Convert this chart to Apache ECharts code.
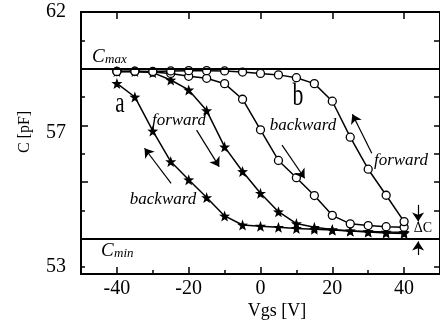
<!DOCTYPE html>
<html><head><meta charset="utf-8">
<script src="https://cdn.jsdelivr.net/npm/echarts@6/dist/echarts.min.js"></script>
<style>html,body{margin:0;padding:0;background:#fff}#c{width:440px;height:334px}</style>
</head><body><div id="c"></div>
<script>
// Gate voltage sweep points [V]
const vgs = [-40,-35,-30,-25,-20,-15,-10,-5,0,5,10,15,20,25,30,35,40];
// Curve a (stars)
const aBackward = [59.48,59.0,57.8,56.72,56.08,55.45,54.8,54.48,54.44,54.4,54.36,54.33,54.3,54.27,54.25,54.23,54.22];
const aForward  = [59.9,59.9,59.86,59.6,59.25,58.52,57.24,56.37,55.6,54.95,54.53,54.4,54.32,54.27,54.23,54.2,54.18];
// Curve b (open circles)
const bBackward = [59.9,59.9,59.88,59.83,59.73,59.66,59.47,58.92,57.84,56.76,56.15,55.52,54.82,54.52,54.46,54.42,54.4];
const bForward  = [59.9,59.91,59.9,59.92,59.93,59.93,59.92,59.88,59.83,59.78,59.68,59.47,58.85,57.58,56.45,55.53,54.6];
// Reference levels
const cMax = 60, cMin = 54;
// Axis ticks / labels
const xLabelValues = [-40,-20,0,20,40];
const xMinorTicks = [-30,-10,10,30];
const yMajorTicks = [54,56,58,60];
const yMinorTicks = [53,55,57,59,61];
const yLabelValues = [62,57.75,53];
const yLabelTexts = ['62','57','53'];
// Annotation arrows [x1,y1,x2,y2] in data units
const arrows = [
  [-24.9,55.95,-32.3,57.19],
  [-17.8,57.83,-11.5,56.54],
  [6.0,57.30,12.3,56.13],
  [31.0,57.01,25.6,58.39],
  [43.9,55.19,43.9,54.6],
  [43.9,53.42,43.9,53.9]
];

const SERIF = '"Liberation Serif","Times New Roman",serif';
const star = 'path://M0,-10L2.35,-3.24L9.51,-3.09L3.8,1.24L5.88,8.09L0,4.5L-5.88,8.09L-3.8,1.24L-9.51,-3.09L-2.35,-3.24Z';
const zip = arr => vgs.map((v,i)=>[v,arr[i]]);

const chart = echarts.init(document.getElementById('c'), null, {renderer:'canvas'});
const lineStyle = {color:'#000', width:1.5};
const starSeries = (name, d) => ({name, type:'line', data:zip(d), symbol:star, symbolSize:11,
  itemStyle:{color:'#000'}, lineStyle, z:3});
const circSeries = (name, d) => ({name, type:'line', data:zip(d), symbol:'circle', symbolSize:8,
  itemStyle:{color:'#fff', borderColor:'#000', borderWidth:1.3}, lineStyle, z:4});

const baseX = {type:'value', min:-50, max:50, gridIndex:0, splitLine:{show:false},
  axisLine:{show:true, onZero:false, lineStyle:{color:'#000', width:2}}};
const baseY = {type:'value', min:52.75, max:62, gridIndex:0, splitLine:{show:false},
  axisLine:{show:true, onZero:false, lineStyle:{color:'#000', width:2}}};

chart.setOption({
  animation:false,
  backgroundColor:'#fff',
  grid:{left:81, top:12, right:-3, bottom:60, containLabel:false},
  xAxis:[
    Object.assign({}, baseX, {position:'bottom',
      axisTick:{show:true, inside:true, length:7, customValues:xLabelValues, lineStyle:{color:'#000', width:1.5}},
      axisLabel:{show:true, customValues:xLabelValues, margin:5, color:'#000', fontFamily:SERIF, fontSize:20}}),
    Object.assign({}, baseX, {position:'bottom',
      axisTick:{show:true, inside:true, length:4, customValues:xMinorTicks, lineStyle:{color:'#000', width:1.5}},
      axisLabel:{show:false}}),
    Object.assign({}, baseX, {position:'top',
      axisTick:{show:true, inside:true, length:7, customValues:xLabelValues, lineStyle:{color:'#000', width:1.5}},
      axisLabel:{show:false}})
  ],
  yAxis:[
    Object.assign({}, baseY, {position:'left',
      axisTick:{show:true, inside:true, length:7, customValues:yMajorTicks, lineStyle:{color:'#000', width:1.5}},
      axisLabel:{show:true, customValues:yLabelValues, margin:15, color:'#000', fontFamily:SERIF, fontSize:20,
        formatter:v=>yLabelTexts[yLabelValues.indexOf(v)] ?? ''}}),
    Object.assign({}, baseY, {position:'left',
      axisTick:{show:true, inside:true, length:4, customValues:yMinorTicks, lineStyle:{color:'#000', width:1.5}},
      axisLabel:{show:false}}),
    Object.assign({}, baseY, {position:'right',
      axisTick:{show:true, inside:true, length:6, customValues:yMajorTicks.concat(yMinorTicks), lineStyle:{color:'#000', width:1.5}},
      axisLabel:{show:false}})
  ],
  series:[
    Object.assign(starSeries('a backward', aBackward), {
      markLine:{silent:true, symbol:'none', label:{show:false},
        lineStyle:{color:'#000', type:'solid', width:2},
        data:[{yAxis:cMax},{yAxis:cMin}]}
    }),
    Object.assign(starSeries('a forward', aForward), {
      markLine:{silent:true, symbol:['none','arrow'], symbolSize:9, label:{show:false},
        lineStyle:{color:'#000', type:'solid', width:1.2},
        data:arrows.map(a=>[{coord:[a[0],a[1]]},{coord:[a[2],a[3]]}])}
    }),
    circSeries('b backward', bBackward),
    circSeries('b forward', bForward)
  ],
  graphic:[
    {type:'text', x:120, y:104, scaleX:0.7, style:{text:'a', font:'30px '+SERIF, fill:'#000', textAlign:'center', textVerticalAlign:'middle'}},
    {type:'text', x:298, y:97, scaleX:0.7, style:{text:'b', font:'31px '+SERIF, fill:'#000', textAlign:'center', textVerticalAlign:'middle'}},
    {type:'text', x:179, y:121, style:{text:'forward', font:'italic 17px '+SERIF, fill:'#000', textAlign:'center', textVerticalAlign:'middle'}},
    {type:'text', x:163, y:200, style:{text:'backward', font:'italic 17px '+SERIF, fill:'#000', textAlign:'center', textVerticalAlign:'middle'}},
    {type:'text', x:303, y:126, style:{text:'backward', font:'italic 17px '+SERIF, fill:'#000', textAlign:'center', textVerticalAlign:'middle'}},
    {type:'text', x:401, y:161, style:{text:'forward', font:'italic 17px '+SERIF, fill:'#000', textAlign:'center', textVerticalAlign:'middle'}},
    {type:'text', x:423, y:228, style:{text:'ΔC', font:'14px '+SERIF, fill:'#000', textAlign:'center', textVerticalAlign:'middle'}},
    {type:'text', x:92, y:57, style:{text:'C', font:'italic 19px '+SERIF, fill:'#000', textAlign:'left', textVerticalAlign:'middle'}},
    {type:'text', x:105, y:60, style:{text:'max', font:'italic 13px '+SERIF, fill:'#000', textAlign:'left', textVerticalAlign:'middle'}},
    {type:'text', x:101, y:251, style:{text:'C', font:'italic 19px '+SERIF, fill:'#000', textAlign:'left', textVerticalAlign:'middle'}},
    {type:'text', x:114, y:254, style:{text:'min', font:'italic 13px '+SERIF, fill:'#000', textAlign:'left', textVerticalAlign:'middle'}},
    {type:'text', x:277, y:311, style:{text:'Vgs [V]', font:'18px '+SERIF, fill:'#000', textAlign:'center', textVerticalAlign:'middle'}},
    {type:'text', x:25, y:132, rotation:Math.PI/2, style:{text:'C [pF]', font:'16px '+SERIF, fill:'#000', textAlign:'center', textVerticalAlign:'middle'}}
  ]
});
</script>
</body></html>
